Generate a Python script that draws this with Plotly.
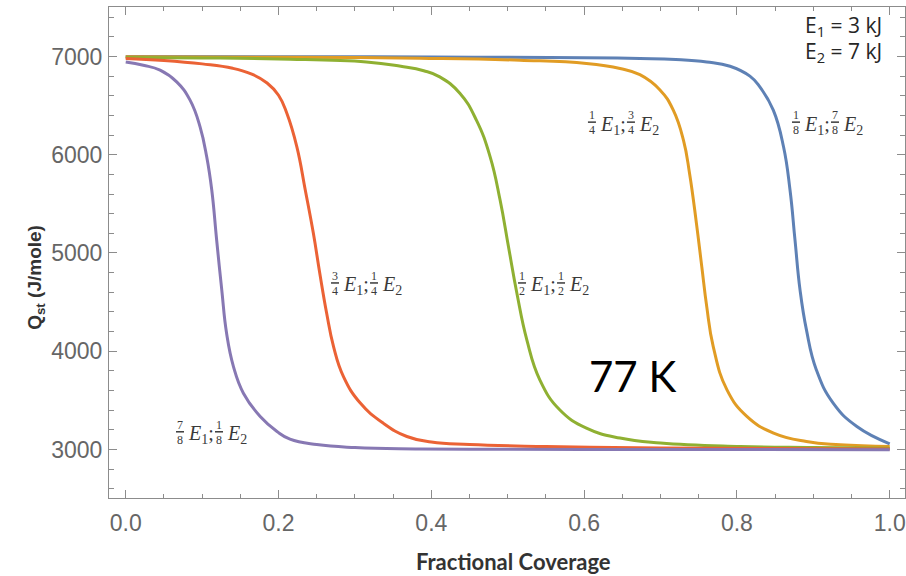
import plotly.graph_objects as go

# Isosteric heat of adsorption vs fractional coverage, dual-site model at 77 K
x_18_78 = [0, 0.2, 0.4, 0.5, 0.6, 0.673, 0.72, 0.7605, 0.791, 0.817, 0.830, 0.8476,
           0.861, 0.8695, 0.876, 0.8826, 0.891, 0.904, 0.926, 0.957, 1.0]
q_18_78 = [7000, 6998, 6995, 6992, 6987, 6980, 6970, 6945, 6901, 6800, 6691, 6454,
           6081, 5641, 5133, 4625, 4217, 3810, 3472, 3234, 3058]

x_14_34 = [0, 0.2, 0.385, 0.516, 0.603, 0.647, 0.673, 0.6993, 0.7167, 0.730, 0.738,
           0.747, 0.754, 0.7605, 0.769, 0.787, 0.813, 0.848, 0.891, 0.935, 1.0]
q_14_34 = [6997, 6993, 6982, 6962, 6929, 6878, 6815, 6660, 6454, 6149, 5810,
           5302, 4861, 4454, 4047, 3607, 3336, 3167, 3081, 3048, 3031]

x_12_12 = [0, 0.1, 0.2, 0.315, 0.36, 0.39, 0.411, 0.4376, 0.459, 0.477, 0.490, 0.501,
           0.512, 0.525, 0.542, 0.568, 0.603, 0.647, 0.7, 0.804, 0.9, 1.0]
q_12_12 = [6990, 6986, 6975, 6945, 6900, 6855, 6793, 6624, 6352, 5979, 5539, 5064,
           4590, 4115, 3709, 3404, 3217, 3116, 3066, 3031, 3020, 3012]

x_34_14 = [0, 0.05, 0.10, 0.14, 0.165, 0.185, 0.2, 0.211, 0.224, 0.235, 0.2456,
           0.254, 0.263, 0.272, 0.285, 0.307, 0.337, 0.368, 0.4, 0.45, 0.55, 0.7, 1.0]
q_34_14 = [6980, 6960, 6925, 6880, 6820, 6730, 6606, 6420, 6081, 5641, 5200,
           4794, 4387, 4047, 3742, 3472, 3268, 3132, 3076, 3050, 3030, 3015, 3004]

x_78_18 = [0, 0.023, 0.045, 0.0667, 0.0842, 0.0973, 0.106, 0.1126, 0.119, 0.1257, 0.132,
           0.141, 0.154, 0.176, 0.198, 0.215, 0.25, 0.3, 0.385, 0.6, 1.0]
q_78_18 = [6945, 6911, 6861, 6742, 6556, 6284, 5979, 5641, 5132, 4624, 4183,
           3844, 3573, 3336, 3183, 3105, 3050, 3020, 3006, 3000, 2998]

series = [
    (x_18_78, q_18_78, "#5E81B5"),
    (x_14_34, q_14_34, "#E19C24"),
    (x_12_12, q_12_12, "#8FB032"),
    (x_34_14, q_34_14, "#EB6235"),
    (x_78_18, q_78_18, "#8778B3"),
]

# curve labels: (x, Q) anchor = left end of first fraction bar, then the two fractions
curve_labels = [
    (0.8721, 6332, ("1", "8"), ("7", "8")),
    (0.6050, 6332, ("1", "4"), ("3", "4")),
    (0.5135, 4695, ("1", "2"), ("1", "2")),
    (0.2687, 4695, ("3", "4"), ("1", "4")),
    (0.0658, 3180, ("7", "8"), ("1", "8")),
]

x_ticks = [0.0, 0.2, 0.4, 0.6, 0.8, 1.0]
y_ticks = [3000, 4000, 5000, 6000, 7000]

fig = go.Figure()
for xs, qs, color in series:
    fig.add_trace(go.Scatter(x=xs, y=qs, mode="lines",
                             line=dict(color=color, width=3, shape="spline", smoothing=1.3),
                             showlegend=False, hoverinfo="skip"))

frame = "#8c8c8c"
tick_font = dict(family="Liberation Sans, Arial, sans-serif", size=23, color="#666666")
axis_common = dict(showgrid=False, zeroline=False, showline=True, linecolor=frame, linewidth=1,
                   mirror="allticks", ticks="inside", ticklen=8, tickcolor=frame, tickwidth=1,
                   tickfont=tick_font)

fig.update_xaxes(range=[-0.0219, 1.0200], tickvals=x_ticks, tickformat=".1f",
                 minor=dict(dtick=0.05, tick0=0, ticks="inside", ticklen=4, tickcolor=frame),
                 ticklabelstandoff=4, **axis_common)
fig.update_yaxes(range=[2506, 7504], tickvals=y_ticks,
                 minor=dict(dtick=200, tick0=0, ticks="inside", ticklen=5, tickcolor=frame),
                 ticklabelstandoff=1, **axis_common)

serif = "Liberation Serif, DejaVu Serif, serif"
label_color = "#3a3a3a"


def add_fraction(xa, ya, dx, num, den):
    fig.add_annotation(x=xa, y=ya, xref="x", yref="y", text=num, showarrow=False,
                       xanchor="center", yanchor="middle", xshift=dx + 4, yshift=7,
                       font=dict(family=serif, size=12, color=label_color))
    fig.add_annotation(x=xa, y=ya, xref="x", yref="y", text=den, showarrow=False,
                       xanchor="center", yanchor="middle", xshift=dx + 4, yshift=-8,
                       font=dict(family=serif, size=12, color=label_color))
    fig.add_shape(type="line", xref="x", yref="y", xsizemode="pixel", ysizemode="pixel",
                  xanchor=xa, yanchor=ya, x0=dx, x1=dx + 8, y0=0, y1=0,
                  line=dict(color=label_color, width=1.5))


def add_energy(xa, ya, dx, idx):
    fig.add_annotation(x=xa, y=ya, xref="x", yref="y",
                       text=f"<i>E</i><sub>{idx}</sub>" + (";" if idx == 1 else ""),
                       showarrow=False, xanchor="left", yanchor="middle",
                       xshift=dx, yshift=-3,
                       font=dict(family=serif, size=20, color=label_color))


for xa, ya, f1, f2 in curve_labels:
    add_fraction(xa, ya, 0, *f1)
    add_energy(xa, ya, 10, 1)
    add_fraction(xa, ya, 39, *f2)
    add_energy(xa, ya, 49, 2)

# temperature and site energies
fig.add_annotation(x=0.6627, y=3749, xref="x", yref="y", text="77 K", showarrow=False,
                   xanchor="center", yanchor="middle",
                   font=dict(family="Lato, Open Sans, sans-serif", size=42, color="#000000"))
energy_font = dict(family="Open Sans, Lato, sans-serif", size=21, color="#262626")
fig.add_annotation(x=0.9735, y=0.962, xref="paper", yref="paper",
                   text="E<sub>1</sub> = 3 kJ", showarrow=False,
                   xanchor="right", yanchor="middle", font=energy_font)
fig.add_annotation(x=0.9735, y=0.908, xref="paper", yref="paper",
                   text="E<sub>2</sub> = 7 kJ", showarrow=False,
                   xanchor="right", yanchor="middle", font=energy_font)

# axis titles
fig.add_annotation(x=-0.092, y=0.45, xref="paper", yref="paper",
                   text="<b>Q<sub>st</sub> (J/mole)</b>", showarrow=False, textangle=-90,
                   xanchor="center", yanchor="middle",
                   font=dict(family="Liberation Sans, Arial, sans-serif", size=19, color="#333333"))
fig.add_annotation(x=0.508, y=-0.13, xref="paper", yref="paper",
                   text="<b>Fractional Coverage</b>", showarrow=False,
                   xanchor="center", yanchor="middle",
                   font=dict(family="Lato, Open Sans, sans-serif", size=22, color="#333333"))

fig.update_layout(width=906, height=576, margin=dict(l=109, r=1, t=7, b=78),
                  paper_bgcolor="white", plot_bgcolor="white")

fig.write_html("out.html")
